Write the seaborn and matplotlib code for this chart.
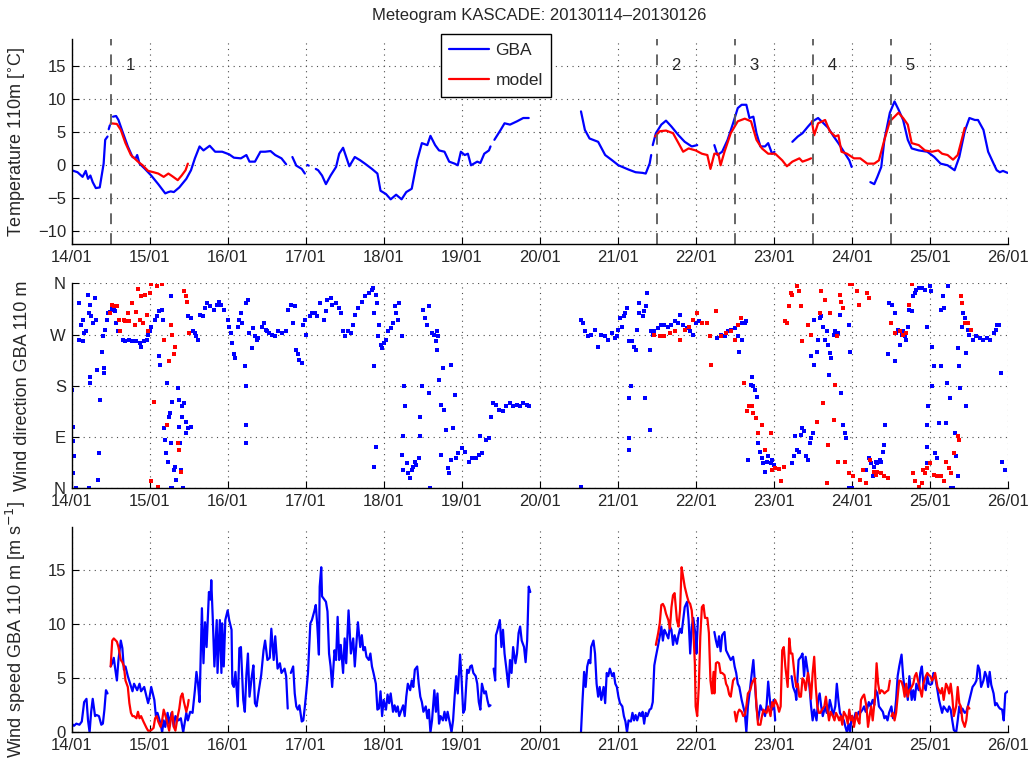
import numpy as np
import pandas as pd
import matplotlib
matplotlib.use('Agg')
import matplotlib.pyplot as plt
import seaborn as sns

nan = np.nan

# x axis: days since 14/01 00:00
day_labels = ['14/01', '15/01', '16/01', '17/01', '18/01', '19/01', '20/01',
              '21/01', '22/01', '23/01', '24/01', '25/01', '26/01']
case_start = [0.5, 7.5, 8.5, 9.5, 10.5]
case_names = ['1', '2', '3', '4', '5']

# temperature 110 m, GBA (nan = gap in record)
t_gba_day = [0, 0.075, 0.14, 0.18, 0.21, 0.24, 0.27, 0.31, 0.36, 0.41, 0.43, 0.46, nan,
             0.475, 0.49, nan,
             0.53, 0.57, 0.6, 0.65, 0.72, 0.78, 0.82, 0.84, 0.87, 0.94, 1.02, 1.11, 1.2, 1.24,
             1.27, 1.31, 1.38, 1.47, 1.53, 1.58, 1.64, 1.69, 1.77, 1.84, 1.93, 2.02, 2.08,
             2.17, 2.24, 2.28, 2.35, 2.42, 2.48, 2.55, 2.61, 2.69, 2.75, nan,
             2.83, 2.88, 2.95, 2.99, nan, 3.02, 3.04, nan,
             3.13, 3.16, 3.21, 3.26, 3.32, 3.39, 3.43, 3.48, 3.52, 3.56, 3.63, 3.7, 3.76, 3.85,
             3.92, 3.96, 4.03, 4.09, 4.16, 4.23, 4.29, 4.36, 4.43, 4.49, 4.56, 4.6, 4.66, 4.71,
             4.78, 4.84, 4.91, 4.95, 4.99, 5.04, 5.08, 5.12, 5.2, 5.24, 5.29, 5.35, 5.37, nan,
             5.42, 5.5, 5.55, 5.62, 5.71, 5.79, 5.86, nan,
             6.53, 6.58, 6.64, 6.75, 6.84, 6.93, 7.01, 7.14, 7.23, 7.32, 7.36, 7.41, 7.43, nan,
             7.45, 7.49, 7.56, 7.62, 7.69, 7.78, 7.86, 7.95, 8.02, nan,
             8.24, 8.28, 8.34, 8.41, 8.48, 8.54, 8.59, 8.65, 8.69, 8.74, 8.78, 8.83, 8.89, 8.93,
             8.98, 9.01, nan,
             9.24, 9.31, 9.37, 9.44, 9.5, 9.57, 9.64, 9.7, 9.77, 9.83, 9.9, 9.97, 10.0, nan,
             10.24, 10.29, 10.33, 10.38, 10.42, 10.49, 10.55, 10.6, 10.66, 10.72, 10.77, 10.86,
             10.97, 11.06, 11.14, 11.23, 11.32, 11.38, 11.45, 11.51, 11.58, 11.62, 11.69, 11.75,
             11.82, 11.86, 11.9, 11.94, 12.0]
t_gba_val = [-0.8, -1.1, -1.8, -0.9, -2.1, -1.6, -2.6, -3.5, -3.4, 0.2, 3.8, 4.3, nan,
             5.4, 6.0, nan,
             7.3, 7.4, 6.8, 5.1, 2.8, 1.2, 1.0, 1.5, 0.2, -0.6, -1.6, -2.9, -4.3, -4.1,
             -4.0, -4.1, -3.4, -2.1, -0.8, 1.0, 2.8, 2.2, 2.9, 2.0, 2.0, 1.6, 1.1,
             1.0, 1.5, 0.5, 0.5, 2.0, 2.0, 2.1, 1.5, 1.0, 0.1, nan,
             1.2, -0.1, -0.6, -1.3, nan, 0.0, -0.1, nan,
             -0.6, -0.8, -1.6, -2.9, -1.6, -0.3, 1.7, 2.6, 1.2, -0.2, 1.2, 0.7, 0.2, -0.6,
             -1.3, -3.9, -4.4, -5.2, -4.5, -5.2, -4.1, -3.6, 0.7, 3.3, 3.0, 4.4, 3.0, 2.2,
             2.0, 0.5, 0.2, -0.05, 2.0, 1.5, 1.7, -0.05, 0.5, 0.3, 1.7, 2.2, 2.8, nan,
             3.8, 5.3, 6.3, 6.1, 6.6, 7.1, 7.1, nan,
             8.1, 5.3, 4.0, 3.5, 1.5, 0.7, -0.05, -0.7, -1.1, -1.2, -1.3, 0.2, 1.5, nan,
             3.0, 4.8, 6.1, 6.7, 5.8, 4.5, 3.5, 2.8, 3.0, nan,
             3.0, 1.5, 2.0, 3.8, 6.3, 8.6, 9.1, 9.1, 7.1, 7.3, 4.8, 2.8, 2.8, 3.3,
             1.7, 2.0, nan,
             3.5, 4.3, 4.8, 5.8, 6.6, 7.1, 6.3, 5.6, 4.3, 3.3, 2.0, 0.7, -0.3, nan,
             -2.6, -2.9, -1.8, -0.3, 3.8, 7.9, 9.6, 8.4, 6.8, 3.8, 2.5, 2.2,
             2.0, 1.2, 0.2, -0.05, -0.8, 1.2, 5.1, 7.1, 6.8, 6.8, 5.3, 2.0,
             0.2, -0.8, -1.1, -0.9, -1.2]

# temperature 110 m, model runs
t_mod_day = [0.5, 0.58, 0.63, 0.69, 0.76, 0.85, 0.91, 0.98, 1.05, 1.11, 1.18, 1.24, 1.29,
             1.36, 1.41, 1.46, 1.49, nan,
             7.48, 7.54, 7.62, 7.71, 7.78, 7.84, 7.91, 8.0, 8.08, 8.15, 8.19, 8.24, 8.29, 8.32,
             8.37, 8.45, 8.54, 8.63, 8.71, 8.78, 8.85, 8.93, 9.02, 9.11, 9.17, 9.24, 9.33, 9.37,
             9.44, 9.48, nan,
             9.49, 9.52, 9.57, 9.66, 9.72, 9.79, 9.83, 9.87, 9.94, 10.03, 10.11, 10.2, 10.29,
             10.35, 10.42, 10.49, 10.55, 10.6, 10.66, 10.72, 10.77, 10.86, 10.94, 11.03, 11.11,
             11.16, 11.23, 11.3, 11.36, 11.4, 11.45]
t_mod_val = [6.3, 6.2, 5.3, 3.3, 1.5, 0.5, -0.05, -0.9, -1.1, -1.3, -1.8, -1.3, -1.7,
             -2.3, -1.6, -0.8, 0.2, nan,
             4.3, 5.1, 5.2, 4.8, 3.3, 2.0, 2.5, 2.2, 1.7, 1.5, -0.6, 1.7, 1.7, -0.05,
             2.0, 4.8, 6.6, 7.0, 6.6, 3.8, 2.5, 1.7, 1.7, 0.7, -0.2, 0.5, 1.0, 0.5,
             0.8, 1.0, nan,
             6.6, 4.5, 6.3, 6.8, 5.1, 4.3, 4.5, 2.0, 1.7, 1.0, 1.0, 0.2, 0.2,
             0.7, 3.8, 6.6, 7.3, 7.9, 7.1, 6.1, 3.3, 3.0, 2.2, 2.0, 2.2,
             1.7, 1.5, 0.8, 1.5, 3.3, 5.6]

# wind direction 110 m [deg], GBA
wd_gba_day = [0.01, 0.02, 0.02, 0.03, 0.02, 0.06, 0.09, 0.1, 0.12, 0.14, 0.15, 0.16, 0.19, 0.21,
              0.22, 0.24, 0.23, 0.24, 0.25, 0.27, 0.3, 0.31, 0.33, 0.34, 0.35, 0.36, 0.39, 0.4,
              0.41, 0.42, 0.43, 0.45, 0.47, 0.49, 0.52, 0.54, 0.56, 0.57, 0.6, 0.62, 0.66, 0.69,
              0.74, 0.78, 0.83, 0.87, 0.89, 0.93, 0.96, 0.98, 1.0, 1.02, 1.07, 1.09, 1.12, 1.16,
              1.17, 1.12, 1.13, 1.19, 1.2, 1.21, 1.22, 1.23, 1.25, 1.26, 1.27, 1.28, 1.29, 1.31,
              1.33, 1.34, 1.36, 1.37, 1.38, 1.39, 1.4, 1.41, 1.42, 1.44, 1.46, 1.47, 1.49, 1.53,
              1.49, 1.53, 1.55, 1.58, 1.6, 1.62, 1.64, 1.69, 1.71, 1.73, 1.78, 1.82, 1.86, 1.89,
              1.91, 1.95, 2.0, 2.02, 2.04, 2.06, 2.08, 2.1, 2.13, 2.15, 2.17, 2.19, 2.22, 2.23,
              2.23, 2.23, 2.24, 2.26, 2.28, 2.31, 2.33, 2.35, 2.37, 2.39, 2.44, 2.46, 2.49, 2.5,
              2.53, 2.57, 2.61, 2.65, 2.7, 2.75, 2.77, 2.81, 2.84, 2.86, 2.88, 2.9, 2.92, 2.95,
              2.97, 2.99, 3.01, 3.06, 3.08, 3.12, 3.15, 3.19, 3.24, 3.26, 3.28, 3.32, 3.34, 3.39,
              3.43, 3.45, 3.48, 3.5, 3.54, 3.58, 3.61, 3.63, 3.67, 3.72, 3.76, 3.81, 3.85, 3.86,
              3.9, 3.88, 3.92, 3.94, 3.93, 3.87, 3.9, 3.87, 3.96, 3.98, 4.01, 4.03, 4.06, 4.09,
              4.12, 4.14, 4.16, 4.19, 4.2, 4.23, 4.25, 4.26, 4.27, 4.24, 4.25, 4.3, 4.31, 4.34,
              4.36, 4.38, 4.4, 4.42, 4.45, 4.47, 4.46, 4.49, 4.51, 4.53, 4.56, 4.58, 4.58, 4.6,
              4.62, 4.64, 4.67, 4.69, 4.68, 4.7, 4.71, 4.74, 4.74, 4.76, 4.78, 4.8, 4.82, 4.84,
              4.86, 4.86, 4.89, 4.91, 4.93, 4.95, 5.0, 5.04, 5.09, 5.13, 5.18, 5.22, 5.24, 5.26,
              5.31, 5.35, 5.37, 5.4, 5.44, 5.48, 5.53, 5.57, 5.62, 5.66, 5.71, 5.75, 5.79, 5.84,
              5.86, 0.22, 1.27, 1.29, 1.43,
              6.53, 6.53, 6.55, 6.58, 6.62, 6.66, 6.71, 6.75, 6.79, 6.84, 6.88, 6.93, 6.97, 6.99,
              7.01, 7.03, 7.06, 7.08, 7.1, 7.12, 7.14, 7.15, 7.14, 7.14, 7.17, 7.19, 7.21, 7.23,
              7.25, 7.27, 7.27, 7.32, 7.34, 7.36, 7.37, 7.35, 7.41, 7.41, 7.43, 7.45, 7.47, 7.52,
              7.56, 7.6, 7.65, 7.69, 7.73, 7.78, 7.8, 7.84, 7.89, 7.93, 7.97, 8.01, 8.04,
              8.28, 8.32, 8.37, 8.41, 8.45, 8.5, 8.54, 8.56, 8.59, 8.59, 8.63, 8.65,
              8.67, 8.71, 8.72, 8.74, 8.76, 8.79, 8.8, 8.83, 8.85, 8.87, 8.89, 8.91, 8.93, 8.96,
              8.98, 9.0,
              9.24, 9.26, 9.28, 9.3, 9.33, 9.35, 9.37, 9.39, 9.41, 9.44, 9.46, 9.48, 9.5,
              9.48, 9.52, 9.55, 9.57, 9.52, 9.59, 9.61, 9.63, 9.66, 9.68, 9.7, 9.72, 9.71, 9.74,
              9.77, 9.79, 9.81, 9.83, 9.85, 9.87, 9.89, 9.92, 9.93, 9.96, 9.98, 9.97, 10.0,
              10.18, 10.22, 10.25, 10.27, 10.29, 10.31, 10.33, 10.36, 10.38, 10.4, 10.42, 10.43,
              10.46, 10.48, 10.5, 10.52, 10.55, 10.55, 10.57, 10.6, 10.62, 10.64, 10.66, 10.68,
              10.7, 10.72, 10.74, 10.77, 10.79, 10.81, 10.83, 10.86, 10.9, 10.94, 10.97, 10.97,
              10.98, 10.97, 10.97, 11.0, 11.02, 11.03, 11.03, 11.05, 11.07, 11.1, 11.12, 11.14,
              11.15, 11.17, 11.19, 11.21, 11.22, 11.24, 11.26, 11.28, 11.3, 11.32, 11.34, 11.36,
              11.37, 11.38, 11.39, 11.41, 11.43, 11.45, 11.46, 11.47, 11.49, 11.51, 11.56, 11.6,
              11.65, 11.69, 11.74, 11.78, 11.83, 11.85, 11.87, 11.89, 11.92, 11.93, 11.96]
wd_gba_deg = [173, 108, 83, 56, 26, 0, 325, 261, 287, 296, 258, 273, 276, 340,
              308, 322, 185, 196, 302, 290, 334, 296, 208, 15, 62, 155, 240, 267,
              211, 202, 278, 296, 308, 309, 315, 314, 311, 290, 276, 276, 261, 258,
              261, 258, 258, 255, 249, 258, 261, 270, 276, 284, 296, 302, 311, 314,
              296, 232, 217, 106, 85, 62, 185, 47, 126, 132, 79, 337, 152, 32,
              38, 15, 176, 155, 108, 79, 32, 144, 126, 150, 117, 97, 106, 108,
              302, 299, 276, 273, 267, 261, 305, 302, 317, 325, 320, 314, 322, 328,
              322, 314, 296, 284, 273, 255, 235, 229, 284, 296, 308, 290, 214, 179,
              111, 79, 325, 331, 273, 246, 281, 267, 261, 264, 284, 290, 278, 276,
              273, 270, 267, 276, 273, 276, 314, 322, 290, 320, 243, 235, 226, 220,
              287, 296, 270, 302, 308, 308, 302, 325, 296, 311, 331, 334, 322, 325,
              317, 308, 276, 267, 276, 273, 287, 305, 317, 328, 337, 343, 349, 352,
              340, 308, 325, 287, 267, 214, 73, 38, 252, 246, 255, 261, 276, 281,
              290, 320, 308, 296, 325, 267, 91, 179, 144, 59, 32, 44, 26, 18,
              32, 38, 47, 41, 53, 126, 91, 179, 314, 299, 287, 320, 167, 0,
              273, 270, 258, 276, 243, 267, 190, 59, 147, 211, 138, 103, 35, 26,
              50, 217, 106, 164, 53, 62, 70, 64, 47, 53, 53, 59, 91, 62,
              85, 88, 126, 150, 147, 138, 135, 144, 150, 144, 147, 144, 150, 147,
              144, 0, 0, 0, 0,
              3, 296, 290, 276, 267, 270, 278, 249, 270, 267, 261, 273, 264, 267,
              278, 299, 284, 302, 308, 317, 258, 158, 88, 67, 179, 258, 249, 243,
              278, 308, 325, 302, 311, 320, 343, 158, 243, 103, 276, 270, 276, 281,
              287, 287, 284, 287, 293, 290, 305, 287, 281, 276, 270, 290, 293,
              264, 270, 267, 276, 278, 281, 267, 240, 261, 290, 290, 293,
              50, 182, 196, 179, 173, 161, 79, 64, 53, 44, 29, 47, 56, 44,
              50, 41,
              44, 56, 91, 67, 64, 94, 106, 100, 56, 50, 79, 88, 97,
              232, 217, 240, 261, 296, 299, 302, 284, 261, 276, 252, 237, 199, 229,
              270, 276, 267, 273, 305, 167, 111, 97, 88, 287, 240, 0, 0,
              32, 53, 44, 21, 38, 47, 44, 50, 47, 64, 76, 111,
              235, 325, 290, 322, 308, 223, 273, 278, 252, 270, 276, 267,
              261, 284, 314, 311, 337, 343, 349, 352, 352, 349, 284, 111,
              144, 73, 44, 355, 346, 179, 249, 214, 62, 53, 114, 314,
              214, 337, 317, 114, 185, 355, 158, 0, 0, 97, 56, 21,
              246, 214, 176, 284, 308, 299, 144, 237, 278, 270, 261, 267,
              264, 261, 264, 261, 273, 278, 287, 287, 202, 47, 32]

# wind direction 110 m [deg], model runs
wd_mod_day = [0.49, 0.52, 0.54, 0.58, 0.61, 0.62, 0.67, 0.69, 0.72, 0.74, 0.78, 0.81, 0.83,
              0.85, 0.87, 0.89, 0.91, 0.94, 0.96, 0.98, 1.0, 1.02, 1.06, 1.09, 1.16, 1.22, 1.18,
              1.25, 1.28, 1.29, 1.31, 1.33, 1.36, 1.38, 1.4, 1.44, 1.47, 1.48, 1.5, 1.02, 1.11,
              7.47, 7.54, 7.6, 7.67, 7.73, 7.8, 7.86, 7.91, 7.97, 8.02, 8.08, 8.15, 8.19, 8.2,
              8.26, 8.32, 8.39, 8.45, 8.5, 8.54, 8.58,
              8.62, 8.66, 8.68, 8.72, 8.74, 8.78, 8.8, 8.85, 8.89, 8.96, 8.98, 9.02, 9.07, 9.1,
              9.13, 9.15, 9.17, 9.2, 9.22, 9.24, 9.3, 9.32, 9.35, 9.37, 9.44, 9.48, 9.55, 9.59,
              9.61, 9.63, 9.66, 9.68, 9.7, 9.72, 9.77, 9.79, 9.81, 9.83, 9.85, 9.87, 9.89, 9.92,
              9.96, 9.98, 10.0, 10.02, 10.07, 10.09, 10.11, 10.15, 10.18, 10.2, 10.22, 10.24,
              10.29, 10.31, 10.33, 10.38, 10.42, 10.46, 10.5, 10.55, 10.62, 10.66, 10.7, 10.74,
              10.77, 10.79, 10.81, 10.86, 10.9, 10.92, 10.94, 10.97, 11.01, 11.05, 11.1, 11.14,
              11.19, 11.21, 11.25, 11.27, 11.31, 11.36, 11.38, 11.4, 11.42, 11.45, 11.49, 11.53]
wd_mod_deg = [308, 322, 320, 320, 296, 276, 296, 293, 308, 293, 325, 287, 309,
              350, 296, 337, 290, 340, 305, 276, 343, 358, 151, 355, 358, 111, 261,
              223, 287, 270, 235, 249, 79, 67, 29, 346, 337, 327, 273, 12, 3,
              270, 267, 267, 273, 276, 261, 278, 284, 296, 308, 290, 290, 267, 217,
              311, 267, 273, 276, 261, 287, 299,
              185, 135, 144, 144, 132, 123, 97, 111, 67, 97, 32, 35, 33, 12,
              38, 293, 290, 320, 343, 340, 355, 346, 320, 258, 287, 270, 117, 308,
              346, 150, 331, 9, 76, 308, 120, 182, 267, 47, 340, 328, 317, 47,
              26, 358, 358, 21, 346, 322, 15, 32, 9, 343, 334, 50,
              29, 23, 29, 26, 21, 18, 290, 273, 276, 270, 273, 322,
              358, 26, 12, 3, 9, 32, 26, 35, 44, 23, 21, 21,
              12, 47, 35, 26, 62, 91, 85, 337, 325, 290, 290, 278]

# wind speed 110 m [m/s], GBA
ws_gba_day = [0, 0.03, 0.06, 0.1, 0.13, 0.16, 0.19, 0.21, 0.23, 0.25, 0.27, 0.3, 0.32, 0.35,
              0.38, 0.4, 0.42, 0.44, 0.46, nan,
              0.5, 0.52, 0.54, 0.56, 0.58, 0.6, 0.63, 0.65, 0.67, 0.69, 0.72, 0.75, 0.78, 0.8,
              0.84, 0.87, 0.89, 0.93, 0.96, 0.98, 1.0, 1.02, 1.06, 1.08, 1.1, 1.14, 1.16, 1.18,
              1.2, 1.23, 1.25, 1.28, 1.31, 1.33, 1.37, 1.4, 1.43, 1.47, 1.49, 1.52, 1.55, 1.58,
              1.6, 1.62, 1.64, 1.67, 1.69, 1.71, 1.73, 1.76, 1.78, 1.79, 1.81, 1.83, 1.86, 1.87,
              1.9, 1.92, 1.93, 1.95, 1.97, 2.0, 2.02, 2.05, 2.06, 2.08, 2.1, 2.13, 2.15, 2.17,
              2.2, 2.22, 2.24, 2.26, 2.28, 2.31, 2.33, 2.35, 2.37, 2.4, 2.43, 2.46, 2.48, 2.51,
              2.54, 2.56, 2.59, 2.61, 2.64, 2.67, 2.69, 2.73, 2.75, 2.77, nan,
              2.81, 2.84, 2.86, 2.88, 2.9, 2.92, 2.95, 2.97, 2.99, 3.01, 3.03, 3.06, 3.08, 3.11,
              3.13, 3.15, 3.17, 3.18, 3.2, 3.21, 3.24, 3.26, 3.28, 3.3, 3.32, 3.34, 3.37, 3.39,
              3.41, 3.43, 3.45, 3.48, 3.5, 3.52, 3.55, 3.58, 3.61, 3.63, 3.67, 3.7, 3.72, 3.74,
              3.76, 3.78, 3.81, 3.83, 3.85, 3.87, 3.9, 3.92, 3.94, 3.96, 3.98, 4.0, 4.03, 4.05,
              4.07, 4.09, 4.12, 4.14, 4.16, 4.18, 4.2, 4.23, 4.25, 4.27, 4.29, 4.31, 4.34, 4.36,
              4.38, 4.4, 4.43, 4.45, 4.47, 4.49, 4.51, 4.54, 4.56, 4.58, 4.6, 4.62, 4.65, 4.67,
              4.69, 4.71, 4.73, 4.76, 4.78, 4.8, 4.82, 4.85, 4.87, 4.89, 4.91, 4.93, 4.95, 4.98,
              5.0, 5.02, 5.04, 5.07, 5.09, 5.11, 5.13, 5.15, 5.18, 5.2, 5.22, 5.24, 5.26, 5.29,
              5.31, 5.33, 5.35, 5.37, nan,
              5.41, 5.43, 5.44, 5.46, 5.49, 5.51, 5.53, 5.55, 5.57, 5.6, 5.62, 5.64, 5.66, 5.69,
              5.71, 5.73, 5.75, 5.77, 5.8, 5.82, 5.84, 5.86, 5.88, nan,
              6.53, 6.55, 6.57, 6.59, 6.61, 6.63, 6.65, 6.66, 6.69, 6.71, 6.73, 6.75, 6.77, 6.79,
              6.82, 6.84, 6.86, 6.88, 6.9, 6.93, 6.95, 6.97, 6.99, 7.01, 7.03, 7.06, 7.08, 7.1,
              7.12, 7.14, 7.17, 7.19, 7.21, 7.23, 7.25, 7.28, 7.3, 7.32, 7.34, 7.36, 7.38, 7.41,
              7.43, 7.45, 7.47, 7.49, 7.52, 7.54, 7.56, 7.58, 7.6, 7.62, 7.65, 7.67, 7.69, 7.71,
              7.73, 7.76, 7.78, 7.8, 7.82, 7.84, 7.86, 7.89, 7.91, 7.93, 7.95, 7.97, 8.0, 8.01,
              8.03, nan,
              8.24, 8.26, 8.28, 8.3, 8.32, 8.34, 8.37, 8.39, 8.41, 8.43, 8.45, 8.48, 8.5, 8.52,
              8.54, 8.56, 8.59, 8.61, 8.63, 8.65, 8.67, 8.7, 8.72, 8.74, 8.76, 8.78, 8.8, 8.83,
              8.85, 8.87, 8.89, 8.91, 8.93, 8.96, 8.98, 9.0, 9.02, nan,
              9.23, 9.25, 9.28, 9.29, 9.32, 9.35, 9.37, 9.39, 9.41, 9.44, 9.46, 9.48, 9.5, 9.52,
              9.55, 9.57, 9.59, 9.61, 9.63, 9.66, 9.68, 9.7, 9.72, 9.74, 9.76, 9.79, 9.81, 9.83,
              9.85, 9.87, 9.9, 9.92, 9.94, 9.96, 9.98, 10.0, 10.03, 10.05, 10.07, 10.09, 10.11,
              10.14, 10.16, 10.18, 10.2, 10.22, 10.24, 10.27, 10.29, 10.31, 10.33, 10.35, 10.38,
              10.4, 10.42, 10.44, 10.46, 10.48, 10.51, 10.53, 10.55, 10.57, 10.59, 10.61, 10.64,
              10.66, 10.68, 10.7, 10.72, 10.74, 10.77, 10.79, 10.81, 10.83, 10.86, 10.88, 10.9,
              10.92, 10.95, 10.97, 10.99, 11.01, 11.03, 11.05, 11.07, 11.1, 11.12, 11.14, 11.16,
              11.18, 11.21, 11.23, 11.25, 11.27, 11.29, 11.31, 11.34, 11.36, 11.38, 11.4, 11.42,
              11.45, 11.47, 11.49, 11.51, 11.53, 11.55, 11.58, 11.6, 11.62, 11.64, 11.66, 11.69,
              11.71, 11.73, 11.75, 11.77, 11.79, 11.82, 11.84, 11.86, 11.88, 11.9, 11.93, 11.95,
              11.97, 12.0]
ws_gba_val = [0.8, 0.6, 0.8, 0.7, 1.0, 2.8, 3.1, 1.1, 0, 1.9, 3.1, 1.5, 1.6, 1.5,
              0.7, 0.8, 2.1, 3.9, 3.6, nan,
              6.1, 6.4, 6.9, 5.8, 4.8, 6.7, 8.5, 7.8, 5.8, 6.1, 5.2, 4.5, 3.8, 4.5,
              3.9, 4.5, 3.8, 4.2, 3.3, 2.7, 3.3, 4.2, 3.0, 1.5, 1.8, 0.8, 0, 1.1,
              0.5, 1.8, 0.8, 1.8, 0.5, 1.5, 1.1, 1.3, 0, 1.8, 1.1, 1.9, 1.8, 3.9,
              5.6, 4.5, 2.8, 11.5, 6.4, 10.2, 7.9, 13.0, 12.3, 14.1, 10.4, 6.1, 10.4, 5.5,
              10.4, 5.5, 10.1, 6.1, 10.4, 11.3, 10.4, 9.5, 4.5, 4.2, 5.6, 2.4, 7.8, 7.9,
              3.0, 1.9, 5.3, 7.3, 3.3, 5.2, 6.2, 2.7, 2.4, 3.9, 5.3, 7.6, 8.5, 6.7,
              6.9, 9.6, 6.7, 8.9, 5.9, 6.4, 5.5, 5.9, 5.2, 2.2, nan,
              5.5, 6.1, 3.6, 2.4, 2.1, 2.5, 1.0, 1.1, 2.4, 3.9, 5.5, 10.1, 10.4, 11.2,
              11.8, 9.8, 7.2, 13.5, 15.3, 12.6, 12.3, 12.1, 11.2, 7.3, 6.1, 4.2, 7.6, 6.7,
              10.7, 6.7, 8.1, 5.5, 8.7, 6.4, 11.3, 7.3, 8.7, 6.1, 10.2, 7.9, 9.0, 7.6,
              7.9, 7.0, 6.7, 7.3, 6.1, 5.5, 4.5, 2.1, 2.2, 3.8, 1.5, 3.0, 2.1, 3.5,
              2.7, 3.6, 1.9, 2.5, 1.9, 2.4, 1.5, 2.1, 2.5, 1.5, 3.3, 4.5, 3.9, 4.8,
              4.2, 5.8, 6.1, 4.5, 3.3, 2.8, 1.9, 2.4, 1.3, 2.1, 0, 1.1, 3.9, 1.9,
              3.6, 0.8, 1.5, 1.1, 1.9, 1.1, 1.9, 0.8, 0, 1.1, 3.3, 5.2, 3.6, 7.2,
              4.8, 1.8, 2.1, 5.8, 5.5, 6.1, 6.2, 5.5, 5.2, 4.5, 2.8, 2.1, 4.5, 3.6,
              3.8, 3.0, 2.4, 2.5, nan,
              5.9, 4.8, 9.0, 9.5, 10.4, 7.9, 9.5, 7.3, 6.1, 4.2, 6.7, 5.5, 7.9, 6.4,
              7.3, 9.2, 9.8, 8.5, 7.9, 6.5, 8.5, 13.5, 13.0, nan,
              0, 3.0, 5.6, 4.2, 6.1, 6.7, 6.4, 7.9, 8.5, 7.3, 4.5, 3.3, 4.2, 3.0,
              4.2, 2.7, 5.5, 5.2, 5.9, 5.2, 5.5, 4.5, 4.2, 3.3, 2.7, 2.4, 1.5, 1.0,
              0, 1.1, 1.0, 1.8, 1.1, 1.6, 1.1, 1.8, 1.5, 1.9, 0.8, 1.8, 1.5, 2.1,
              2.2, 2.8, 6.2, 7.0, 8.1, 8.9, 9.8, 8.5, 9.5, 9.2, 8.7, 9.8, 9.5, 8.1,
              9.0, 8.2, 9.0, 9.6, 9.2, 10.4, 11.6, 12.1, 10.4, 7.3, 9.8, 10.6, 8.9, 7.3,
              10.6, nan,
              9.3, 8.5, 7.9, 8.9, 7.5, 9.0, 9.3, 7.6, 7.3, 7.0, 6.7, 7.0, 6.1, 5.5,
              4.5, 4.2, 3.0, 2.4, 1.8, 0, 2.4, 4.2, 5.5, 6.7, 4.5, 2.4, 1.1, 2.5,
              2.1, 1.9, 1.5, 2.5, 4.7, 2.4, 2.1, 3.0, 1.1, nan,
              5.2, 4.2, 3.6, 3.0, 6.7, 7.0, 7.3, 5.2, 7.0, 5.5, 4.2, 2.4, 1.1, 2.1,
              1.1, 3.0, 3.6, 2.4, 1.5, 2.4, 1.8, 1.8, 3.0, 2.4, 1.5, 2.4, 4.5, 3.0,
              1.8, 1.5, 1.1, 0.5, 0, 0.8, 0, 1.5, 1.1, 1.8, 1.5, 1.9, 1.8,
              2.1, 2.4, 1.9, 2.2, 2.8, 2.4, 3.0, 2.5, 3.9, 3.6, 2.4, 2.1,
              1.9, 1.3, 1.5, 1.1, 1.8, 2.4, 1.3, 1.5, 3.0, 5.2, 6.1, 7.2,
              5.2, 3.9, 4.2, 3.0, 5.2, 3.0, 3.9, 3.0, 4.5, 3.9, 5.5, 6.1,
              4.5, 3.9, 5.2, 4.5, 4.4, 4.5, 5.5, 5.2, 3.9, 3.0, 2.4, 1.8,
              2.4, 2.1, 1.9, 2.4, 2.1, 1.1, 0.2, 0, 1.1, 2.4, 1.8, 2.2,
              1.8, 1.9, 2.4, 3.0, 3.6, 4.2, 4.5, 4.8, 6.2, 5.8, 4.2, 4.8,
              5.6, 5.2, 4.2, 5.6, 4.4, 3.6, 2.5, 2.7, 2.4, 2.2, 2.1, 1.1,
              3.6, 3.8]

# wind speed 110 m [m/s], model runs
ws_mod_day = [0.5, 0.52, 0.54, 0.58, 0.6, 0.63, 0.65, 0.67, 0.69, 0.72, 0.74, 0.76, 0.78, 0.8,
              0.83, 0.85, 0.87, 0.89, 0.92, 0.94, 0.96, 0.98, 1.0, 1.02, 1.05, 1.07, 1.09, 1.11,
              1.14, 1.16, 1.18, 1.2, 1.22, 1.25, 1.27, 1.29, 1.31, 1.33, 1.36, 1.38, 1.4, 1.42,
              1.44, 1.47, 1.49, 1.5, nan,
              7.49, 7.52, 7.54, 7.56, 7.58, 7.6, 7.62, 7.65, 7.67, 7.69, 7.71, 7.73, 7.76, 7.78,
              7.8, 7.82, 7.84, 7.86, 7.89, 7.91, 7.93, 7.95, 7.97, 7.99, 8.0, 8.02, 8.04, 8.06,
              8.08, 8.1, 8.12, 8.15, 8.17, 8.19, 8.21, 8.23, 8.24, 8.26, 8.28, 8.3, 8.32, 8.34,
              8.37, 8.39, 8.41, 8.43, 8.45, 8.48, 8.5, nan,
              8.5, 8.52, 8.54, 8.56, 8.59, 8.61, 8.63, 8.65, 8.67, 8.7, 8.72, 8.74, 8.76, 8.78,
              8.8, 8.83, 8.85, 8.87, 8.89, 8.91, 8.93, 8.96, 8.98, 9.0, 9.02, 9.05, 9.07, 9.09,
              9.11, 9.13, 9.15, 9.18, 9.2, 9.22, 9.24, 9.27, 9.29, 9.31, 9.33, 9.35, 9.37, 9.39,
              9.41, 9.44, 9.46, 9.48, 9.5, 9.52, 9.54, 9.56, 9.58, 9.6, 9.62, 9.65, 9.67, 9.69,
              9.71, 9.73, 9.76, 9.78, 9.8, 9.82, 9.84, 9.86, 9.88, 9.9, 9.93, 9.95, 9.97, 9.99,
              10.01, 10.03, 10.06, 10.08, 10.1, 10.12, 10.14, 10.16, 10.19, 10.21, 10.23, 10.25,
              10.27, 10.3, 10.32, 10.34, 10.36, 10.38, 10.4, 10.42, 10.45, 10.47, 10.49, nan,
              10.51, 10.53, 10.55, 10.57, 10.59, 10.61, 10.64, 10.66, 10.68, 10.7, 10.72, 10.74,
              10.77, 10.79, 10.81, 10.83, 10.86, 10.88, 10.9, 10.92, 10.95, 10.97, 10.99, 11.01,
              11.03, 11.05, 11.07, 11.1, 11.12, 11.14, 11.16, 11.18, 11.21, 11.23, 11.25, 11.27,
              11.29, 11.31, 11.34, 11.36, 11.38, 11.4, 11.42, 11.45, 11.47, 11.49, 11.51]
ws_mod_val = [6.1, 8.5, 8.7, 8.4, 7.9, 6.7, 6.5, 6.1, 4.8, 4.2, 2.7, 1.8, 1.5, 1.5,
              1.3, 1.9, 1.3, 1.5, 1.0, 0.7, 0.4, 0.15, 0.15, 0.2, 0.4, 1.3, 1.5, 1.0,
              0.5, 1.1, 2.1, 1.6, 1.1, 0.15, 1.1, 1.9, 0.5, 0.15, 1.5, 2.2, 3.3, 3.6,
              2.8, 1.9, 2.5, 3.0, nan,
              8.1, 9.2, 10.1, 11.8, 11.9, 11.6, 11.0, 10.4, 9.6, 11.6, 12.7, 12.9, 10.4, 9.8,
              11.3, 15.3, 14.4, 13.5, 12.6, 12.1, 11.9, 11.3, 9.5, 6.4, 2.4, 1.5, 4.2, 8.9,
              11.6, 11.8, 10.6, 10.6, 9.2, 4.8, 3.6, 5.6, 3.6, 6.4, 6.5, 6.4, 5.5, 5.5,
              5.3, 4.5, 4.2, 3.5, 3.3, 4.8, 5.0, nan,
              1.9, 1.0, 1.8, 2.1, 1.9, 1.5, 1.6, 2.4, 3.6, 3.9, 4.5, 4.8, 5.0, 2.4,
              0.7, 0.7, 1.5, 2.1, 1.9, 1.8, 2.4, 1.5, 2.8, 2.4, 3.0, 2.5, 1.9, 2.4,
              7.6, 7.9, 6.1, 4.2, 8.7, 7.3, 7.3, 5.2, 4.2, 4.5, 3.3, 3.3, 5.0, 4.8,
              3.9, 5.5, 4.5, 3.1, 5.5, 7.0, 4.2, 2.4, 1.8, 1.8, 2.1, 2.4, 3.3, 2.1,
              1.1, 1.9, 1.5, 1.1, 1.8, 1.5, 1.1, 1.5, 0.7, 1.9, 1.5, 0.8, 2.1, 1.1,
              1.5, 0.5, 1.8, 1.1, 0.8, 3.0, 3.3, 3.5, 2.4, 0.5, 1.5, 2.4,
              1.1, 3.3, 6.4, 4.5, 3.6, 3.9, 3.8, 3.6, 3.8, 3.9, 4.8, nan,
              1.5, 1.8, 1.1, 1.8, 3.3, 4.8, 4.7, 4.2, 3.3, 4.5, 3.3, 3.9,
              4.2, 4.5, 5.2, 5.5, 4.5, 3.9, 3.3, 4.5, 5.2, 5.5, 5.3, 5.2,
              4.8, 5.0, 5.5, 4.2, 3.9, 3.6, 4.1, 3.0, 4.5, 4.2, 3.6, 4.5,
              3.3, 1.5, 2.4, 4.2, 2.7, 2.4, 1.1, 0.5, 1.1, 2.4, 2.2]


def to_frame(day, val):
    df = pd.DataFrame({'day': day, 'val': val})
    df['seg'] = df['day'].isna().cumsum()
    return df.dropna()


t_gba = to_frame(t_gba_day, t_gba_val)
t_mod = to_frame(t_mod_day, t_mod_val)
ws_gba = to_frame(ws_gba_day, ws_gba_val)
ws_mod = to_frame(ws_mod_day, ws_mod_val)
wd_gba = pd.DataFrame({'day': wd_gba_day, 'deg': wd_gba_deg})
wd_mod = pd.DataFrame({'day': wd_mod_day, 'deg': wd_mod_deg})

sns.set_style('white')
plt.rcParams['font.family'] = ['Liberation Sans', 'DejaVu Sans']
plt.rcParams['axes.unicode_minus'] = True

fig = plt.figure(figsize=(10.34, 7.62), dpi=100)
ax1 = fig.add_axes([0.0693, 0.6794, 0.9052, 0.2690])
ax2 = fig.add_axes([0.0693, 0.3592, 0.9052, 0.2690])
ax3 = fig.add_axes([0.0693, 0.0390, 0.9052, 0.2690])

grid_kw = dict(color='0.3', linestyle=(0, (1, 4)), linewidth=0.8)
lab_size = 13

# temperature
sns.lineplot(data=t_gba, x='day', y='val', units='seg', estimator=None, color='#0000ff',
             lw=1.6, ax=ax1, legend=False)
sns.lineplot(data=t_mod, x='day', y='val', units='seg', estimator=None, color='#ff0000',
             lw=1.6, ax=ax1, legend=False)
for x0, name in zip(case_start, case_names):
    ax1.axvline(x0, color='0.35', ls=(0, (6, 5)), lw=1.3)
    ax1.text(x0 + 0.25, 15, name, fontsize=12, ha='center', va='center')
ax1.set_ylim(-12, 19)
ax1.set_yticks([-10, -5, 0, 5, 10, 15])
ax1.set_ylabel(r'Temperature 110m [$^{\circ}$C]', fontsize=lab_size)

h_gba, = ax1.plot([], [], color='#0000ff', lw=1.6, label='GBA')
h_mod, = ax1.plot([], [], color='#ff0000', lw=1.6, label='model')
leg = fig.legend(handles=[h_gba, h_mod], loc='upper left', bbox_to_anchor=(0.4262, 0.955),
                 borderaxespad=0, fontsize=12.5, frameon=True, fancybox=False,
                 edgecolor='black', framealpha=1, handlelength=2.3, handletextpad=0.35,
                 borderpad=0.5, labelspacing=0.85)
leg.get_frame().set_linewidth(1.0)

# wind direction
sns.scatterplot(data=wd_gba, x='day', y='deg', color='#0000ff', s=6, marker='s',
                linewidth=0, ax=ax2)
sns.scatterplot(data=wd_mod, x='day', y='deg', color='#ff0000', s=6, marker='s',
                linewidth=0, ax=ax2)
ax2.set_ylim(0, 360)
ax2.set_yticks([0, 90, 180, 270, 360])
ax2.set_yticklabels(['N', 'E', 'S', 'W', 'N'])
ax2.set_ylabel('Wind direction GBA 110 m', fontsize=lab_size)

# wind speed
sns.lineplot(data=ws_gba, x='day', y='val', units='seg', estimator=None, color='#0000ff',
             lw=1.6, ax=ax3, legend=False)
sns.lineplot(data=ws_mod, x='day', y='val', units='seg', estimator=None, color='#ff0000',
             lw=1.6, ax=ax3, legend=False)
ax3.set_ylim(0, 19)
ax3.set_yticks([0, 5, 10, 15])
ax3.set_ylabel(r'Wind speed GBA 110 m [m s$^{-1}$]', fontsize=lab_size)

for ax in (ax1, ax2, ax3):
    ax.set_xlim(0, 12)
    ax.set_xticks(range(13))
    ax.set_xticklabels(day_labels)
    ax.set_xlabel('')
    ax.grid(True, **grid_kw)
    ax.tick_params(direction='in', length=5, width=0.8, labelsize=12, pad=4,
                   top=False, right=False, left=True, bottom=True, color='black')
    for side in ('top', 'right'):
        ax.spines[side].set_visible(False)
    for side in ('left', 'bottom'):
        ax.spines[side].set_color('black')
        ax.spines[side].set_linewidth(1.0)

ax1.yaxis.set_label_coords(-0.047, 0.5)
ax2.yaxis.set_label_coords(-0.043, 0.5)
ax3.yaxis.set_label_coords(-0.047, 0.5)

ax1.set_title('Meteogram KASCADE: 20130114\u201320130126', fontsize=12, pad=14)

fig.savefig('out.png', dpi=100)
